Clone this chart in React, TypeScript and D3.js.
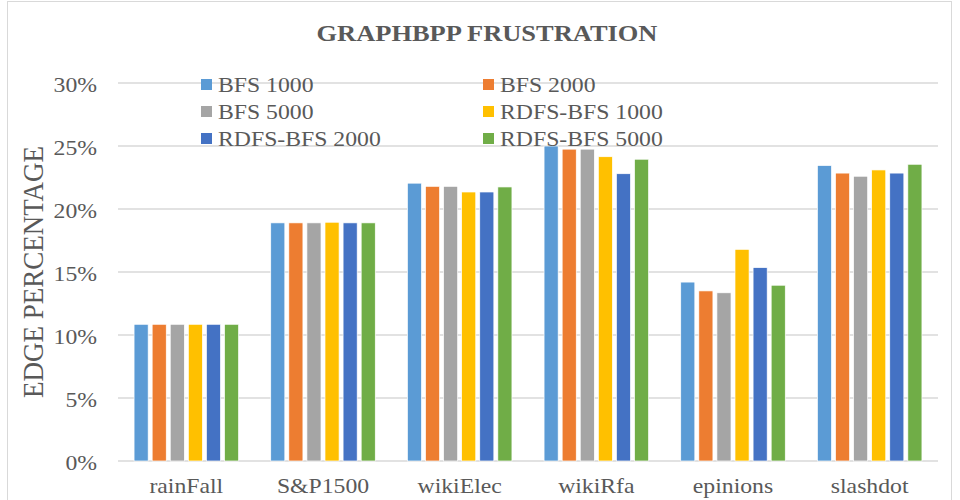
import React from "react";
import * as d3 from "d3";

const CATEGORIES = ["rainFall", "S&P1500", "wikiElec", "wikiRfa", "epinions", "slashdot"];
const SERIES = ["BFS 1000", "BFS 2000", "BFS 5000", "RDFS-BFS 1000", "RDFS-BFS 2000", "RDFS-BFS 5000"];
const COLORS = ["#5B9BD5", "#ED7D31", "#A5A5A5", "#FFC000", "#4472C4", "#70AD47"];

// values in percent, one array per series, in category order
const BFS_1000 = [10.85, 18.9, 22.05, 25.0, 14.2, 23.45];
const BFS_2000 = [10.85, 18.9, 21.8, 24.75, 13.5, 22.85];
const BFS_5000 = [10.85, 18.9, 21.8, 24.75, 13.35, 22.6];
const RDFS_1000 = [10.85, 18.95, 21.35, 24.15, 16.8, 23.1];
const RDFS_2000 = [10.85, 18.9, 21.35, 22.8, 15.35, 22.85];
const RDFS_5000 = [10.85, 18.9, 21.75, 23.95, 13.95, 23.55];
const VALUES = [BFS_1000, BFS_2000, BFS_5000, RDFS_1000, RDFS_2000, RDFS_5000];

const Y_TICKS = [0, 5, 10, 15, 20, 25, 30];

const W = 960, H = 500;
const FONT = "'Liberation Serif', 'Times New Roman', serif";
const INK = "#595959";
const SX = 1.13; // source picture is stretched sideways a bit

function Txt({ x, y, size, anchor = "start", bold = false, rotate = 0, sx = SX, children }: any) {
  return (
    <text
      transform={`translate(${x},${y}) scale(${sx},1)${rotate ? ` rotate(${rotate})` : ""}`}
      fontFamily={FONT}
      fontSize={size}
      fontWeight={bold ? "bold" : "normal"}
      fill={INK}
      textAnchor={anchor}
      dominantBaseline="central"
    >
      {children}
    </text>
  );
}

export default function App() {
  const x0 = d3.scaleBand().domain(CATEGORIES).range([118, 938]).paddingInner(0.235).paddingOuter(0.1175);
  const x1 = d3.scaleBand().domain(SERIES).range([0, x0.bandwidth()]).paddingInner(0.22).paddingOuter(0);
  const y = d3.scaleLinear().domain([0, 30]).range([461, 83]);

  const legendCols = [201, 483];
  const legendRows = [85, 112, 139];

  return (
    <svg width={W} height={H} style={{ position: "absolute", left: 0, top: 0, background: "#fff" }}>
      <rect x={7.5} y={1.5} width={944} height={520} fill="#fff" stroke="#d9d9d9" />

      {/* gridlines */}
      {Y_TICKS.map(t => (
        <line key={t} x1={118} x2={938} y1={y(t)} y2={y(t)} stroke="#d9d9d9" strokeWidth={1.5} />
      ))}

      {/* bars */}
      {CATEGORIES.map((c, ci) => (
        <g key={c} transform={`translate(${x0(c)},0)`}>
          {SERIES.map((s, si) => (
            <rect
              key={s}
              x={x1(s)}
              y={y(VALUES[si][ci])}
              width={x1.bandwidth()}
              height={y(0) - y(VALUES[si][ci])}
              fill={COLORS[si]}
              stroke="#fff"
              strokeWidth={0.7}
            />
          ))}
        </g>
      ))}

      {/* y tick labels */}
      {Y_TICKS.map(t => (
        <Txt key={t} x={97} y={y(t) + 2} size={21} anchor="end">{`${t}%`}</Txt>
      ))}

      {/* category labels */}
      {CATEGORIES.map(c => (
        <Txt key={c} x={(x0(c) as number) + x0.bandwidth() / 2} y={486} size={21} anchor="middle">{c}</Txt>
      ))}

      {/* axis title */}
      <Txt x={32} y={272} size={27} anchor="middle" rotate={-90}>EDGE PERCENTAGE</Txt>

      {/* title */}
      <Txt x={487} y={33} size={23} anchor="middle" bold sx={1.15}>GRAPHBPP FRUSTRATION</Txt>

      {/* legend */}
      {SERIES.map((s, i) => {
        const lx = legendCols[i % 2];
        const ly = legendRows[Math.floor(i / 2)];
        return (
          <g key={s}>
            <rect x={lx} y={ly - 6} width={11} height={11} fill={COLORS[i]} />
            <Txt x={lx + 17} y={ly} size={21}>{s}</Txt>
          </g>
        );
      })}
    </svg>
  );
}
